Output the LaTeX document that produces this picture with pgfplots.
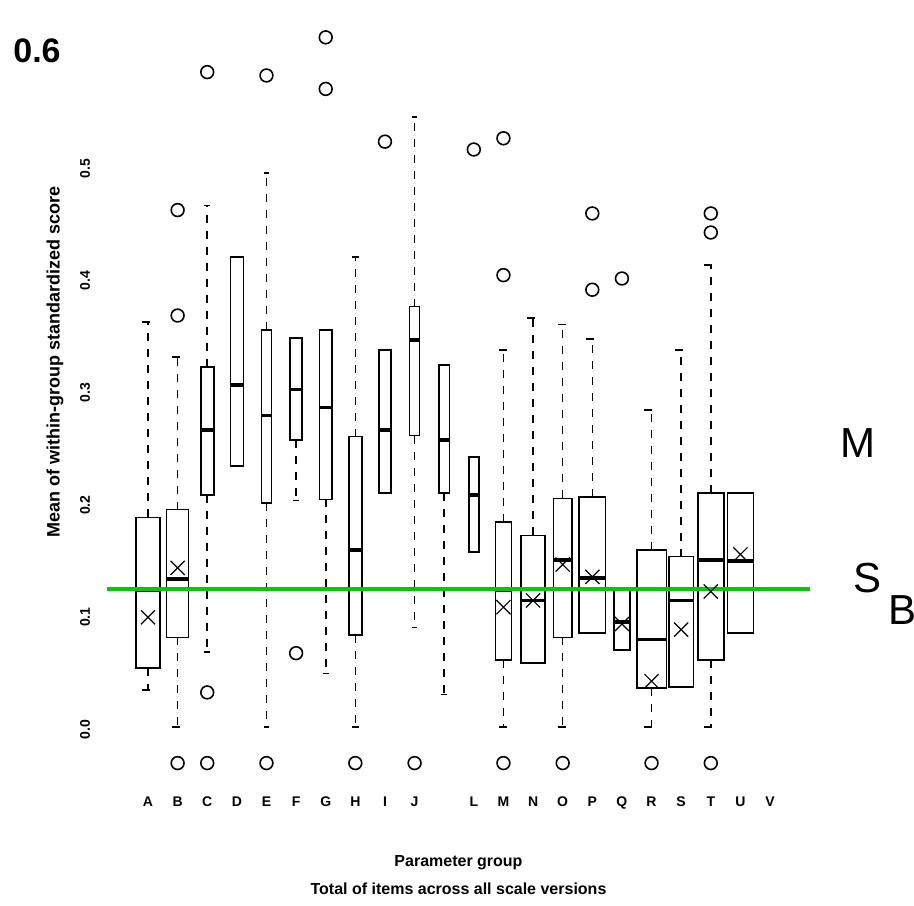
\documentclass[border=0pt]{standalone}
\usepackage{pgfplots}
\pgfplotsset{compat=1.18}
\usepgfplotslibrary{statistics}
\usepackage{fontspec}
\setmainfont{Liberation Sans}
\definecolor{sbgreen}{RGB}{0,204,0}

% shared look of one group: black box, dashed whiskers, heavy median, open-circle outliers
\pgfplotsset{
  rbox/.style={black, line width=0.8pt, solid,
    mark=o, mark size=3.2pt, mark options={solid, line width=0.8pt},
    boxplot/every whisker/.style={dash pattern=on 4pt off 4pt},
    boxplot/every median/.style={line width=1.8pt},
    boxplot/whisker extend=\pgfkeysvalueof{/pgfplots/boxplot/box extend}*0.5},
}

\begin{document}
\begin{tikzpicture}[x=1pt,y=1pt]
\useasboundingbox (0,0) rectangle (457,452.5);
\begin{axis}[
  at={(53.5pt,57.5pt)}, anchor=south west,
  scale only axis, width=351.5pt, height=382.5pt,
  xmin=-1.384, xmax=22.35, ymin=-0.054, ymax=0.628,
  axis line style={draw=none}, major tick length=0pt,
  boxplot/draw direction=y,
  xtick={0,1,2,3,4,5,6,7,8,9,11,12,13,14,15,16,17,18,19,20,21},
  xticklabels={A,B,C,D,E,F,G,H,I,J,L,M,N,O,P,Q,R,S,T,U,V},
  xticklabel style={font=\bfseries\fontsize{7}{8}\selectfont},
  ytick={0,0.1,0.2,0.3,0.4,0.5},
  yticklabels={0.0,0.1,0.2,0.3,0.4,0.5},
  yticklabel style={font=\bfseries\fontsize{7}{8}\selectfont, xshift=-5pt, rotate=90, anchor=south},
  xlabel={Parameter group\\[5pt]Total of items across all scale versions},
  xlabel style={align=center, yshift=-16pt, font=\bfseries\fontsize{8}{9}\selectfont},
  ylabel={Mean of within-group standardized score},
  ylabel style={at={(axis description cs:-0.074,0.56)}, anchor=center, font=\bfseries\fontsize{9}{10}\selectfont},
]
% one box per group: whiskers, quartiles and median, then outliers
\addplot[rbox, boxplot prepared={draw position=0, lower whisker=0.035, lower quartile=0.055, median=0.124, upper quartile=0.189, upper whisker=0.363, box extend=0.81}] coordinates {};
\addplot[rbox, boxplot prepared={draw position=1, lower whisker=0.002, lower quartile=0.082, median=0.134, upper quartile=0.196, upper whisker=0.332, box extend=0.74}] table[row sep=\\, y index=0] {v\\ 0.463\\ 0.369\\ -0.030\\};
\addplot[rbox, boxplot prepared={draw position=2, lower whisker=0.069, lower quartile=0.209, median=0.267, upper quartile=0.323, upper whisker=0.467, box extend=0.44}] table[row sep=\\, y index=0] {v\\ 0.586\\ 0.033\\ -0.030\\};
\addplot[rbox, boxplot prepared={draw position=3, lower whisker=0.235, lower quartile=0.235, median=0.307, upper quartile=0.421, upper whisker=0.421, box extend=0.44}] coordinates {};
\addplot[rbox, boxplot prepared={draw position=4, lower whisker=0.002, lower quartile=0.202, median=0.280, upper quartile=0.356, upper whisker=0.496, box extend=0.34}] table[row sep=\\, y index=0] {v\\ 0.583\\ -0.030\\};
\addplot[rbox, boxplot prepared={draw position=5, lower whisker=0.204, lower quartile=0.258, median=0.303, upper quartile=0.349, upper whisker=0.349, box extend=0.41}] table[row sep=\\, y index=0] {v\\ 0.068\\};
\addplot[rbox, boxplot prepared={draw position=6, lower whisker=0.050, lower quartile=0.205, median=0.287, upper quartile=0.356, upper whisker=0.356, box extend=0.41}] table[row sep=\\, y index=0] {v\\ 0.617\\ 0.571\\};
\addplot[rbox, boxplot prepared={draw position=7, lower whisker=0.002, lower quartile=0.084, median=0.160, upper quartile=0.261, upper whisker=0.421, box extend=0.44}] table[row sep=\\, y index=0] {v\\ -0.030\\};
\addplot[rbox, boxplot prepared={draw position=8, lower whisker=0.211, lower quartile=0.211, median=0.267, upper quartile=0.338, upper whisker=0.338, box extend=0.41}] table[row sep=\\, y index=0] {v\\ 0.524\\};
\addplot[rbox, boxplot prepared={draw position=9, lower whisker=0.091, lower quartile=0.262, median=0.347, upper quartile=0.377, upper whisker=0.546, box extend=0.34}] table[row sep=\\, y index=0] {v\\ -0.030\\};
\addplot[rbox, boxplot prepared={draw position=10, lower whisker=0.031, lower quartile=0.211, median=0.258, upper quartile=0.325, upper whisker=0.325, box extend=0.37}] coordinates {};
\addplot[rbox, boxplot prepared={draw position=11, lower whisker=0.158, lower quartile=0.158, median=0.209, upper quartile=0.243, upper whisker=0.243, box extend=0.34}] table[row sep=\\, y index=0] {v\\ 0.517\\};
\addplot[rbox, boxplot prepared={draw position=12, lower whisker=0.002, lower quartile=0.062, median=0.124, upper quartile=0.185, upper whisker=0.338, box extend=0.54}] table[row sep=\\, y index=0] {v\\ 0.527\\ 0.405\\ -0.030\\};
\addplot[rbox, boxplot prepared={draw position=13, lower whisker=0.059, lower quartile=0.059, median=0.115, upper quartile=0.173, upper whisker=0.367, box extend=0.81}] coordinates {};
\addplot[rbox, boxplot prepared={draw position=14, lower whisker=0.002, lower quartile=0.082, median=0.151, upper quartile=0.206, upper whisker=0.361, box extend=0.61}] table[row sep=\\, y index=0] {v\\ -0.030\\};
\addplot[rbox, boxplot prepared={draw position=15, lower whisker=0.086, lower quartile=0.086, median=0.135, upper quartile=0.207, upper whisker=0.348, box extend=0.88}] table[row sep=\\, y index=0] {v\\ 0.460\\ 0.392\\};
\addplot[rbox, boxplot prepared={draw position=16, lower whisker=0.071, lower quartile=0.071, median=0.096, upper quartile=0.124, upper whisker=0.124, box extend=0.54}] table[row sep=\\, y index=0] {v\\ 0.402\\};
\addplot[rbox, boxplot prepared={draw position=17, lower whisker=0.002, lower quartile=0.037, median=0.080, upper quartile=0.160, upper whisker=0.285, box extend=1.0}] table[row sep=\\, y index=0] {v\\ -0.030\\};
\addplot[rbox, boxplot prepared={draw position=18, lower whisker=0.038, lower quartile=0.038, median=0.115, upper quartile=0.154, upper whisker=0.338, box extend=0.84}] coordinates {};
\addplot[rbox, boxplot prepared={draw position=19, lower whisker=0.002, lower quartile=0.062, median=0.151, upper quartile=0.211, upper whisker=0.414, box extend=0.88}] table[row sep=\\, y index=0] {v\\ 0.460\\ 0.443\\ -0.030\\};
\addplot[rbox, boxplot prepared={draw position=20, lower whisker=0.086, lower quartile=0.086, median=0.150, upper quartile=0.211, upper whisker=0.211, box extend=0.88}] coordinates {};

% group means
\addplot[only marks, black, mark=x, mark size=5pt, mark options={line width=0.6pt}]
  coordinates {(0,0.100) (1,0.144) (12,0.109) (13,0.115) (14,0.147) (15,0.136)
               (16,0.094) (17,0.043) (18,0.089) (19,0.123) (20,0.156)};

% reference level S_B
\addplot[sbgreen, line width=2pt] coordinates {(-1.384,0.1252) (22.35,0.1252)};
\end{axis}

\node[font=\bfseries\fontsize{17}{17}\selectfont] at (18.5,427) {0.6};
\node[font=\fontsize{21}{21}\selectfont] at (429,231) {M};
\node[font=\fontsize{21}{21}\selectfont] at (433.5,163.5) {S};
\node[font=\fontsize{21}{21}\selectfont] at (451,147.5) {B};
\end{tikzpicture}
\end{document}
